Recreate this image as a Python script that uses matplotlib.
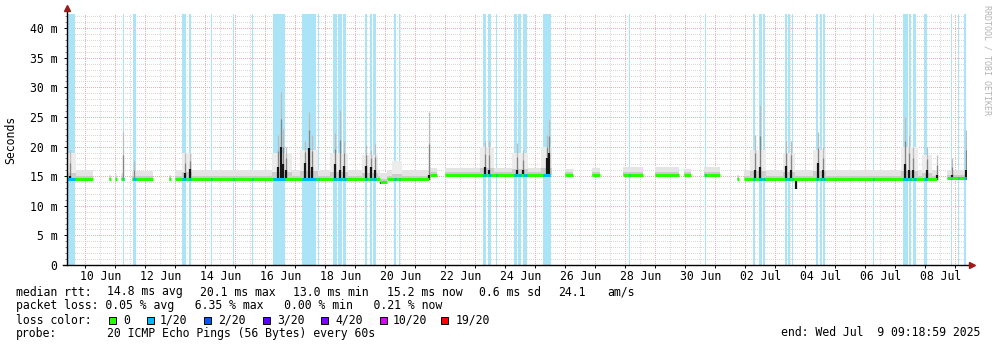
import matplotlib
matplotlib.use('Agg')
import matplotlib.pyplot as plt
from matplotlib.patches import Rectangle

W, H = 997, 347
MONO = 'DejaVu Sans Mono'
FS = 8.3

# x axis: days since Mon Jun 9 09:18:59 2025, 30 day window
span_days = 30.0
first_midnight = 0.6118          # 10 Jun 00:00
day_labels = ['10 Jun', '12 Jun', '14 Jun', '16 Jun', '18 Jun', '20 Jun',
              '22 Jun', '24 Jun', '26 Jun', '28 Jun', '30 Jun', '02 Jul',
              '04 Jul', '06 Jul', '08 Jul']
y_max = 42.4                     # ms

# measured segments: start day, end day, median rtt (ms), smoke top (ms)
seg_start = [0.000, 1.400, 1.600, 1.800, 2.167, 3.400, 3.600, 10.433, 10.667,
             12.100, 12.600, 16.600, 17.500, 18.533, 19.600, 20.567, 21.233,
             22.333, 22.567, 29.333]
seg_end = [0.867, 1.467, 1.667, 1.900, 2.867, 3.467, 10.433, 10.667, 12.067,
           12.333, 16.100, 16.867, 17.767, 19.200, 20.400, 20.800, 21.767,
           22.400, 29.000, 29.967]
seg_median = [14.5, 14.5, 14.5, 14.6, 14.5, 14.5, 14.6, 14.0, 14.6,
              15.2, 15.2, 15.2, 15.2, 15.2, 15.2, 15.2, 15.2,
              14.5, 14.6, 14.7]
seg_top = [16.0, 15.2, 15.3, 15.5, 15.9, 15.2, 16.0, 15.6, 16.1,
           16.4, 16.4, 16.3, 16.4, 16.5, 16.5, 16.2, 16.5,
           15.2, 16.1, 16.0]

# smoke haze around disturbed periods
haze_start = [0.00, 3.83, 6.83, 7.77, 8.77, 9.83, 10.83, 13.77, 14.83, 15.80,
              22.77, 23.87, 24.87, 27.80, 28.50]
haze_end = [0.30, 4.17, 7.50, 8.37, 9.37, 10.37, 11.17, 14.23, 15.37, 16.17,
            23.30, 24.27, 25.30, 28.37, 28.83]
haze_top = [19.0, 19.0, 19.0, 19.5, 19.0, 18.5, 17.5, 20.0, 19.0, 20.0,
            19.5, 19.0, 19.5, 20.0, 18.5]

# rtt spikes: day, max (ms), dark core top (ms)
spike_day = [0.100, 1.867, 2.233, 3.933, 4.100, 7.033, 7.133, 7.200, 7.300,
             7.933, 8.067, 8.167, 8.933, 9.100, 9.233, 9.967, 10.133, 10.267,
             12.067, 13.933, 14.067, 15.000, 15.200, 16.000, 16.067, 22.933,
             23.100, 23.967, 24.133, 25.033, 25.200, 27.933, 28.067, 28.200,
             28.667, 29.000, 29.500, 29.967]
spike_top = [19.5, 22.4, 17.5, 19.0, 19.0, 22.0, 29.2, 23.0, 20.0,
             21.0, 25.8, 22.0, 22.3, 26.2, 21.0, 20.3, 19.5, 20.5,
             25.8, 21.0, 21.0, 20.6, 19.5, 22.0, 24.5, 22.0,
             27.0, 21.0, 21.0, 22.4, 20.0, 25.0, 22.0, 20.0,
             19.9, 18.5, 18.0, 22.8]
spike_dark = [15.0, 14.6, 14.6, 15.5, 16.3, 16.5, 20.0, 17.0, 16.0,
              17.2, 19.8, 16.5, 17.0, 16.0, 16.8, 16.8, 16.5, 16.0,
              15.2, 16.5, 16.0, 16.0, 16.0, 18.0, 19.0, 16.0,
              16.5, 16.8, 16.0, 17.2, 16.0, 17.0, 16.0, 16.0,
              16.0, 15.2, 15.2, 16.0]

# low dips
dip_day = [10.467, 10.600, 24.300]
dip_low = [13.6, 13.9, 12.9]

# periods with packet loss (background bands)
loss_start = [0.000, 1.867, 2.200, 3.833, 4.067, 4.800, 5.533, 6.167, 6.867,
              7.833, 8.367, 8.867, 9.033, 9.200, 9.933, 10.100, 10.200, 10.900,
              11.067, 13.867, 14.033, 14.300, 14.900, 15.033, 15.200, 15.867,
              18.733, 21.267, 22.867, 23.067, 23.200, 23.933, 24.033, 24.167,
              24.967, 25.100, 25.200, 26.867, 27.867, 28.067, 28.200, 28.567,
              29.467, 29.700, 29.900]
loss_end = [0.267, 1.900, 2.300, 3.967, 4.133, 4.833, 5.567, 6.200, 7.267,
            8.300, 8.400, 9.000, 9.167, 9.300, 10.000, 10.167, 10.300, 10.967,
            11.100, 13.967, 14.133, 14.333, 15.000, 15.133, 15.333, 16.133,
            18.767, 21.300, 22.933, 23.167, 23.267, 24.000, 24.100, 24.200,
            25.033, 25.167, 25.267, 26.900, 28.033, 28.133, 28.300, 28.667,
            29.500, 29.733, 29.967]

loss_names = ['0', '1/20', '2/20', '3/20', '4/20', '10/20', '19/20']
loss_colors = ['#26ff00', '#00b8ff', '#0059ff', '#5e00ff', '#7e00ff',
               '#dd00ff', '#ff0000']


def median_at(d):
    for s, e, m in zip(seg_start, seg_end, seg_median):
        if s <= d <= e:
            return m
    return None


fig = plt.figure(figsize=(W / 100, H / 100), dpi=100)
ax = fig.add_axes([67 / W, (H - 265) / H, 900 / W, 251 / H])
ax.set_xlim(0, span_days)
ax.set_ylim(0, y_max)

# grid (dotted, pixel sharp like rrdtool)
midnights = [first_midnight + k for k in range(30)]
halfdays = [first_midnight - 0.5 + k for k in range(31)]
grid_kw = dict(linestyle=(0, (1, 1.4)), linewidth=0.72, zorder=0.5,
               antialiased=False)
ax.vlines([d for d in halfdays if 0 < d < span_days], 0, y_max,
          color='#dadada', **grid_kw)
ax.hlines([v for v in range(1, 43) if v % 5], 0, span_days,
          color='#dadada', **grid_kw)
ax.vlines(midnights, 0, y_max, color='#eeb0b0', **grid_kw)
ax.hlines(range(5, 45, 5), 0, span_days, color='#eeb0b0', **grid_kw)

# loss bands
for s, e in zip(loss_start, loss_end):
    ax.axvspan(s, e, color='#abe3f7', lw=0, zorder=1)

# smoke
for s, e, m, t in zip(seg_start, seg_end, seg_median, seg_top):
    ax.fill_between([s, e], m - 0.3, t, color='#e4e4e4', lw=0, zorder=2)
    ax.fill_between([s, e], m - 0.2, m + 0.5, color='#cbcbcb', lw=0, zorder=2.1)
for s, e, t in zip(haze_start, haze_end, haze_top):
    m = median_at((s + e) / 2) or 14.6
    ax.fill_between([s, e], m, t, color='#ececec', lw=0, zorder=2)
    ax.fill_between([s, e], m, m + (t - m) * 0.25, color='#cdcdcd', lw=0,
                    zorder=2.2)

for d, t, k in zip(spike_day, spike_top, spike_dark):
    m = median_at(d) or 14.6
    ax.vlines(d, m, t, color='#bcbcbc', lw=0.9, zorder=3)
    ax.vlines(d, m, (t + k) / 2, color='#858585', lw=0.9, zorder=3.1)
    ax.vlines(d, m - 0.3, k, color='#151515', lw=1.6, zorder=3.2)

for d, lo in zip(dip_day, dip_low):
    m = median_at(d) or 14.6
    ax.vlines(d, lo, m, color='#151515', lw=1.6, zorder=3.2)

# median line, coloured by loss
for s, e, m in zip(seg_start, seg_end, seg_median):
    ax.plot([s, e], [m, m], color=loss_colors[0], lw=2.2,
            solid_capstyle='butt', zorder=4)
for ls, le in zip(loss_start, loss_end):
    for s, e, m in zip(seg_start, seg_end, seg_median):
        a, b = max(ls, s), min(le, e)
        if b > a:
            ax.plot([a, b], [m, m], color=loss_colors[1], lw=2.2,
                    solid_capstyle='butt', zorder=4.1)

# axes
for sp in ['top', 'right', 'left', 'bottom']:
    ax.spines[sp].set_visible(False)
ax.plot([0, 0], [0, 1.018], transform=ax.transAxes, color='black', lw=1,
        clip_on=False, zorder=5)
ax.plot([-0.005, 1.003], [0, 0], transform=ax.transAxes, color='black',
        lw=1, clip_on=False, zorder=5)
ax.plot(0, 1.022, marker='^', ms=4.5, color='#a01818', transform=ax.transAxes,
        clip_on=False, zorder=6)
ax.plot(1.005, 0, marker='>', ms=4.5, color='#a01818', transform=ax.transAxes,
        clip_on=False, zorder=6)

ax.set_yticks(range(0, 45, 5))
ax.set_yticklabels(['0'] + ['%d m' % v for v in range(5, 45, 5)],
                   family=MONO, fontsize=FS)
ax.set_yticks(range(0, 43), minor=True)
ax.tick_params(axis='y', which='major', length=2.5, width=0.7, pad=4.5)
ax.tick_params(axis='y', which='minor', length=1.2, width=0.5,
               color='#555555')
ax.set_xticks([first_midnight + 0.5 + 2 * k for k in range(len(day_labels))])
ax.set_xticklabels(day_labels, family=MONO, fontsize=FS)
ax.set_xticks(midnights, minor=True)
ax.tick_params(axis='x', which='major', length=0, pad=3.5)
ax.tick_params(axis='x', which='minor', length=2, width=0.7)

fig.text(11 / W, 1 - 140 / H, 'Seconds', rotation=90, family=MONO,
         fontsize=FS, ha='center', va='center')
fig.text(987 / W, 1 - 5 / H, 'RRDTOOL / TOBI OETIKER', rotation=-90,
         family=MONO, fontsize=6, color='#b4b4b4', ha='center', va='top')


def ftext(x, y, s, **kw):
    fig.text(x / W, 1 - y / H, s, va='center', family=MONO, fontsize=FS, **kw)


ftext(16, 292, 'median rtt:')
ftext(107, 292, '14.8 ms avg')
ftext(200, 292, '20.1 ms max')
ftext(293, 292, '13.0 ms min')
ftext(387, 292, '15.2 ms now')
ftext(479, 292, '0.6 ms sd')
ftext(558, 292, '24.1')
ftext(607, 292, 'am/s')

ftext(16, 306, 'packet loss: 0.05 % avg   6.35 % max   0.00 % min   0.21 % now')

ftext(16, 320, 'loss color:')
box_x = [109, 147, 204, 263, 321, 380, 441]
text_x = [123, 160, 218, 277, 335, 393, 456]
for bx, tx, name, col in zip(box_x, text_x, loss_names, loss_colors):
    fig.patches.append(Rectangle((bx / W, 1 - 323.5 / H), 7 / W, 7 / H,
                                 transform=fig.transFigure, facecolor=col,
                                 edgecolor='black', lw=0.7))
    ftext(tx, 320, name)

ftext(16, 333, 'probe:')
ftext(107, 333, '20 ICMP Echo Pings (56 Bytes) every 60s')
ftext(980, 333, 'end: Wed Jul  9 09:18:59 2025', ha='right')

fig.savefig('out.png', dpi=100)
